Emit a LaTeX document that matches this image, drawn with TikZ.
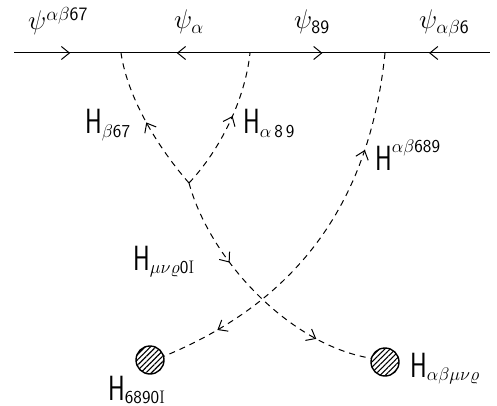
\RequirePackage{fix-cm}
\documentclass[tikz,border=0pt]{standalone}
\usetikzlibrary{arrows.meta,decorations.markings,patterns.meta}
\newcommand{\Hbig}{\scalebox{0.72}[1]{\fontsize{35}{40}\selectfont\textsf{H}}}
\begin{document}
\begin{tikzpicture}[x=1pt,y=-1pt,
  thin line/.style={line width=1pt},
  dashline/.style={line width=1pt, dash pattern=on 6pt off 5pt},
  lbl/.style={font=\fontsize{26}{30}\selectfont, inner sep=0pt, anchor=base west},
  toplbl/.style={font=\fontsize{27}{30}\selectfont, inner sep=0pt, anchor=base west},
  blob/.style={circle, minimum size=28pt, inner sep=0pt, draw, line width=1.4pt,
    pattern={Lines[angle=45,distance=3.8pt,line width=1.1pt]}},
  tipx/.tip={Straight Barb[length=8pt,width=13pt,line width=1pt]},
  arrowmark/.style={decoration={markings,
    mark=at position #1 with {\arrow{tipx}}},
    postaction={decorate}}
]
\useasboundingbox (0,0) rectangle (497,406);

% fermion line
\coordinate (L) at (14,53);
\coordinate (R) at (490,53);
\draw[thin line, decoration={markings,
   mark=at position 0.118 with {\arrow{tipx}},
   mark=at position 0.342 with {\arrowreversed{tipx}},
   mark=at position 0.648 with {\arrow{tipx}},
   mark=at position 0.872 with {\arrowreversed{tipx}}},
   postaction={decorate}] (L) -- (R);

% top labels
\node[toplbl] (p1) at (28,30) {$\psi^{\alpha\beta\mathsf{67}}$};
\node[toplbl] (p2) at (174,29) {$\psi_{\alpha}$};
\node[toplbl] (p3) at (294,29) {$\psi_{\mathsf{89}}$};
\node[toplbl] (p4) at (419,29) {$\psi_{\alpha\beta\mathsf{6}}$};

% vertex and attachment points
\coordinate (v) at (189,183);
\coordinate (t1) at (121,53);
\coordinate (t2) at (250,53);
\coordinate (t3) at (385,53);

% blobs
\node[blob] (b1) at (150,360) {};
\node[blob] (b2) at (385,362) {};

% dashed lines
\draw[dashline, arrowmark=0.5] (v) .. controls (160,150) and (128,100) .. (t1);
\draw[dashline, arrowmark=0.55] (v) .. controls (220,150) and (245,100) .. (t2);
\draw[dashline, decoration={markings,
   mark=at position 0.34 with {\arrow{tipx}},
   mark=at position 0.78 with {\arrow{tipx}}},
   postaction={decorate}] (v) .. controls (210,260) and (290,345) .. (b2.165);
\draw[dashline, decoration={markings,
   mark=at position 0.25 with {\arrowreversed{tipx}},
   mark=at position 0.85 with {\arrow{tipx}}},
   postaction={decorate}] (t3) .. controls (370,200) and (300,300) .. (b1.15);

% H labels
\node[lbl] (h1) at (85,134) {${\Hbig}_{\beta\mathsf{67}}$};
\node[lbl] (h2) at (243,134) {${\Hbig}_{\alpha\,\mathsf{8\,9}}$};
\node[lbl] (h3) at (375,170) {${\Hbig}^{\alpha\beta\mathsf{689}}$};
\node[lbl] (h4) at (133,270) {${\Hbig}_{\mu\nu\varrho\mathsf{0}\mathrm{I}}$};
\node[lbl] (h5) at (108,400) {${\Hbig}_{\mathsf{6890}\mathrm{I}}$};
\node[lbl] (h6) at (410,377) {${\Hbig}_{\alpha\beta\mu\nu\varrho}$};
\end{tikzpicture}
\end{document}
